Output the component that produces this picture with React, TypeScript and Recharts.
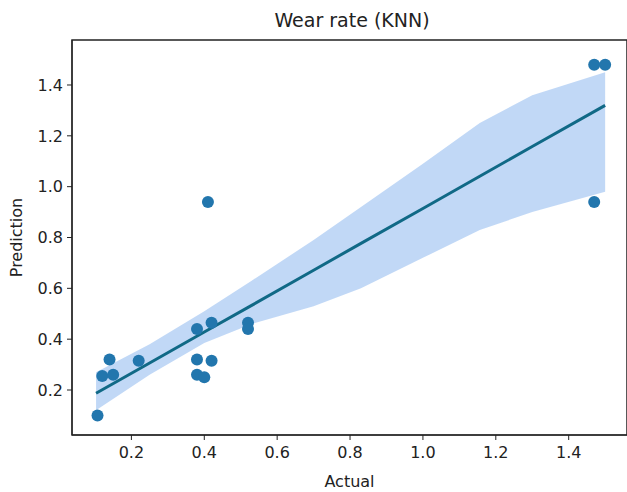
import React from 'react';
import {
  ComposedChart,
  Scatter,
  Line,
  Area,
  XAxis,
  YAxis,
  ReferenceArea,
} from 'recharts';

// measured points (actual vs predicted wear rate)
const actual = [0.107, 0.12, 0.14, 0.15, 0.22, 0.38, 0.38, 0.38, 0.40, 0.41, 0.42, 0.42, 0.52, 0.52, 1.47, 1.50, 1.47];
const predicted = [0.10, 0.255, 0.32, 0.26, 0.315, 0.44, 0.32, 0.26, 0.25, 0.94, 0.465, 0.315, 0.465, 0.44, 1.48, 1.48, 0.94];

// regression line and its confidence band
const fitX = [0.103, 0.25, 0.4, 0.53, 0.7, 0.83, 1.0, 1.156, 1.3, 1.5];
const fitY = [0.187, 0.306, 0.428, 0.533, 0.671, 0.777, 0.914, 1.041, 1.158, 1.32];
const bandLow = [0.12, 0.26, 0.385, 0.46, 0.53, 0.6, 0.72, 0.83, 0.9, 0.98];
const bandHigh = [0.27, 0.38, 0.51, 0.63, 0.79, 0.92, 1.09, 1.25, 1.36, 1.45];

const ticks = [0.2, 0.4, 0.6, 0.8, 1.0, 1.2, 1.4];
const xDomain = [0.037, 1.56];
const yDomain = [0.023, 1.577];

const points = actual.map((x, i) => ({ x, y: predicted[i] }));
const band = fitX.map((x, i) => ({ x, fit: fitY[i], range: [bandLow[i], bandHigh[i]] }));

const FONT = 'DejaVu Sans';
const tickStyle = { fontFamily: FONT, fontSize: 16, fill: '#222' };

const App = () => {
  return (
    <div style={{ position: 'absolute', left: 0, top: 0, width: 627, height: 492, background: '#fff' }}>
      <div
        style={{
          position: 'absolute',
          top: 9,
          left: 271,
          width: 162,
          textAlign: 'center',
          whiteSpace: 'nowrap',
          fontFamily: FONT,
          fontSize: 19,
          color: '#222',
        }}
      >
        Wear rate (KNN)
      </div>
      <ComposedChart
        width={627}
        height={492}
        data={band}
        margin={{ top: 40, right: 0, bottom: 0, left: 0 }}
      >
        <XAxis
          dataKey="x"
          type="number"
          domain={xDomain}
          ticks={ticks}
          tickFormatter={(v: number) => v.toFixed(1)}
          allowDataOverflow
          height={57}
          stroke="#222"
          tickSize={5}
          tickMargin={7}
          tick={tickStyle}
          label={{ value: 'Actual', position: 'insideBottom', offset: 5, style: { fontFamily: FONT, fontSize: 16, fill: '#222' } }}
        />
        <YAxis
          type="number"
          domain={yDomain}
          ticks={ticks}
          tickFormatter={(v: number) => v.toFixed(1)}
          allowDataOverflow
          width={72}
          stroke="#222"
          tickSize={5}
          tickMargin={4}
          tick={tickStyle}
          label={{ value: 'Prediction', angle: -90, position: 'insideLeft', offset: 16, style: { fontFamily: FONT, fontSize: 16, fill: '#222', textAnchor: 'middle' } }}
        />
        <Area
          dataKey="range"
          type="linear"
          stroke="none"
          fill="#afcdf4"
          fillOpacity={0.78}
          isAnimationActive={false}
        />
        <Line
          dataKey="fit"
          type="linear"
          stroke="#106986"
          strokeWidth={3}
          dot={false}
          isAnimationActive={false}
        />
        <Scatter
          data={points}
          dataKey="y"
          fill="#2276ad"
          shape={(p: any) => <circle cx={p.cx} cy={p.cy} r={6} fill="#2276ad" />}
          isAnimationActive={false}
        />
        <ReferenceArea
          x1={xDomain[0]}
          x2={xDomain[1]}
          y1={yDomain[0]}
          y2={yDomain[1]}
          fill="none"
          stroke="#222"
          strokeWidth={1.5}
          ifOverflow="visible"
        />
      </ComposedChart>
    </div>
  );
};

export default App;
